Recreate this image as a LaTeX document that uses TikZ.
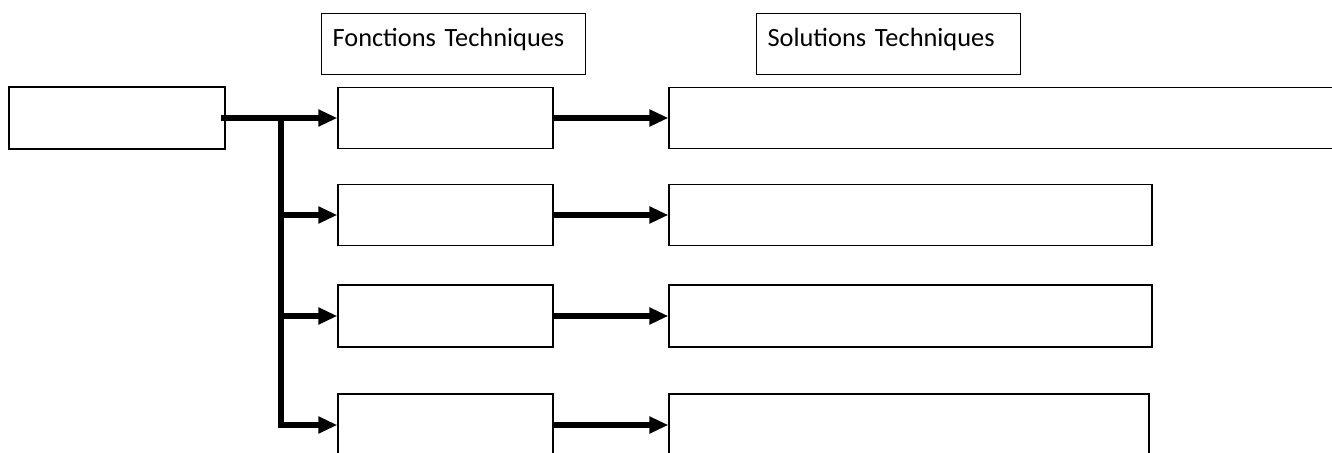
\documentclass[tikz,border=0pt]{standalone}
\usepackage{fontspec}
\setmainfont{Carlito}
\usetikzlibrary{arrows.meta}

\tikzset{
  boite/.style={draw, line width=0.7pt, inner sep=0pt},
  entete/.style={boite, anchor=north west, align=left, inner xsep=0.22cm, inner ysep=0pt,
                 text width=4.84cm, text height=0.66cm, text depth=0.56cm,
                 font=\fontsize{15}{18}\selectfont},
  fleche/.style={line width=3pt, -{Triangle[length=0.38cm, width=0.32cm]}},
}

\begin{document}
\begin{tikzpicture}[x=0.02cm, y=-0.02cm]

\clip (0,0) rectangle (1332,453);

% en-tetes
\node[entete] (fthead) at (321,13) {Fonctions Techniques};
\node[entete] (sthead) at (756,13) {Solutions Techniques};

% bloc de depart
\node[boite, minimum width=4.32cm, minimum height=1.24cm] (input) at (117,118) {};
\coordinate (bus) at (281,118);

% fonctions techniques
\node[boite, minimum width=4.30cm, minimum height=1.22cm] (ft1) at (445.5,118) {};
\node[boite, minimum width=4.30cm, minimum height=1.22cm] (ft2) at (445.5,215) {};
\node[boite, minimum width=4.30cm, minimum height=1.24cm] (ft3) at (445.5,316) {};
\node[boite, minimum width=4.30cm, minimum height=1.24cm] (ft4) at (445.5,425) {};

% solutions techniques
\node[boite, minimum width=14.62cm, minimum height=1.22cm] (st1) at (1034.5,118) {};
\node[boite, minimum width=9.66cm, minimum height=1.22cm] (st2) at (910.5,215) {};
\node[boite, minimum width=9.66cm, minimum height=1.24cm] (st3) at (910.5,316) {};
\node[boite, minimum width=9.60cm, minimum height=1.24cm] (st4) at (909,425) {};

% liaisons
\draw[line width=3pt] ([xshift=-0.1cm]input.east) -- (bus);
\foreach \i in {1,...,4} {
  \draw[fleche] (bus) |- (ft\i.west);
  \draw[fleche] (ft\i.east) -- (st\i.west);
}

\end{tikzpicture}
\end{document}
